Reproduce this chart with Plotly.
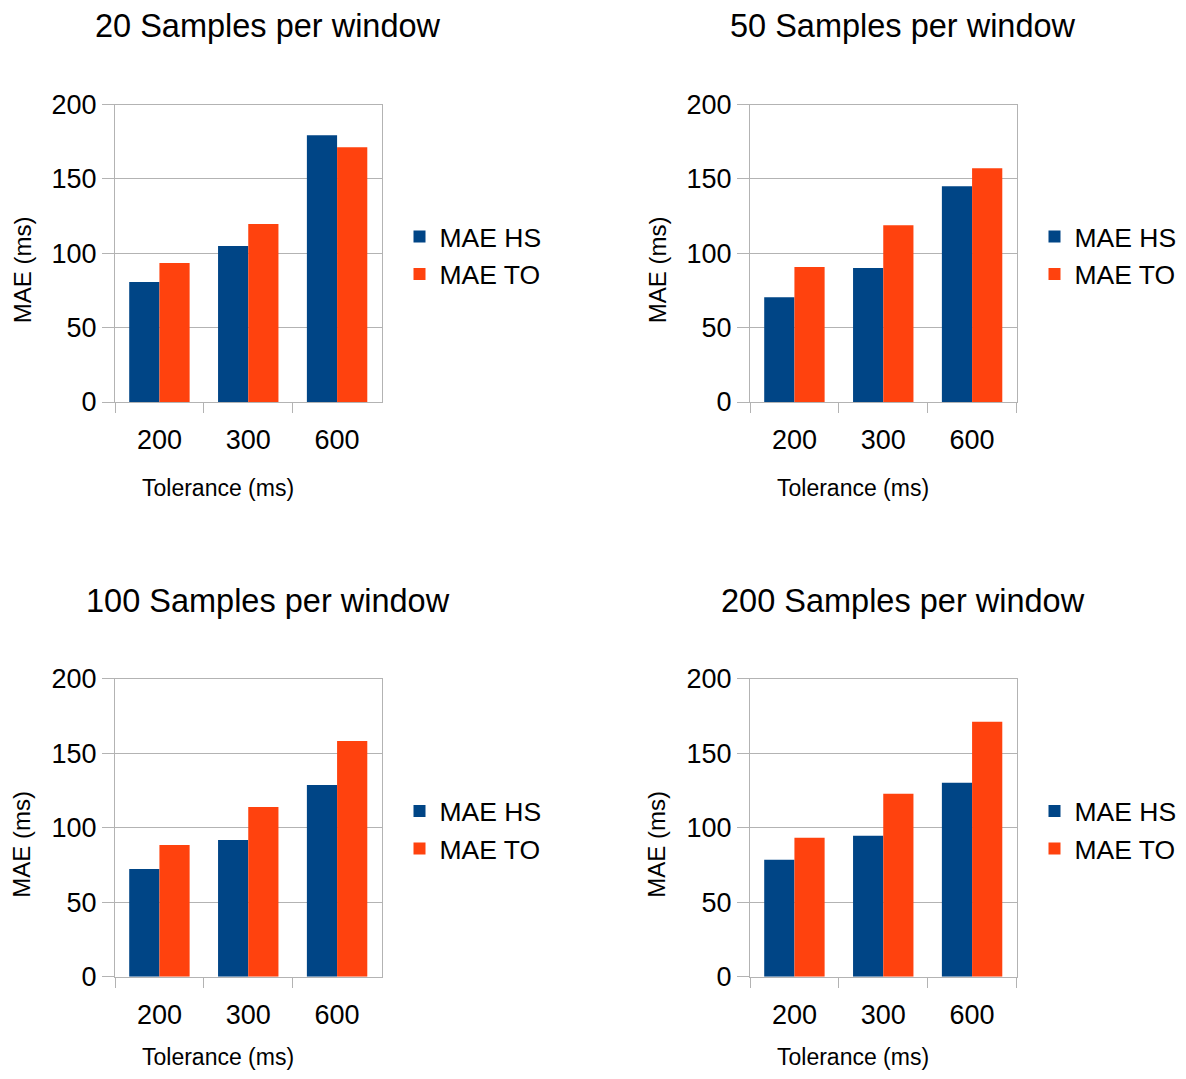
import plotly.graph_objects as go

categories = ["200", "300", "600"]
titles = ["20 Samples per window", "50 Samples per window",
          "100 Samples per window", "200 Samples per window"]
series_names = ["MAE HS", "MAE TO"]
mae_hs = [
    [80.6, 104.8, 179.4],
    [70.5, 90.0, 145.1],
    [72.3, 91.7, 128.6],
    [78.5, 94.6, 130.2],
]
mae_to = [
    [93.4, 119.6, 171.3],
    [90.7, 118.9, 157.2],
    [88.4, 113.9, 158.2],
    [93.3, 122.8, 171.1],
]
y_ticks = [0, 50, 100, 150, 200]
x_title = "Tolerance (ms)"
y_title = "MAE (ms)"

OFF = 8  # page body margin
W, H = 1186 - 2 * OFF, 1079 - 2 * OFF
FONT = "Liberation Sans, Arial, sans-serif"
BLUE = "#004586"
ORANGE = "#ff420e"
GRID = "#b3b3b3"

# panel geometry in screen pixels: (x0, x1, ytop, ybottom, xtitle offset)
panels = [
    (115, 381.5, 104.5, 402, 86),
    (750, 1016.5, 104.5, 402, 86),
    (115, 381.5, 678.7, 976.7, 80),
    (750, 1016.5, 678.7, 976.7, 80),
]


def px(x):
    return (x - OFF) / W


def py(y):
    return 1 - (y - OFF) / H


fig = go.Figure()
layout = dict(
    width=W, height=H,
    margin=dict(l=0, r=0, t=0, b=0, autoexpand=False),
    paper_bgcolor="white", plot_bgcolor="white",
    barmode="group", bargap=0.32, bargroupgap=0,
    font=dict(family=FONT, color="black"),
    annotations=[],
)

for i, (x0, x1, yt, yb, xto) in enumerate(panels):
    n = "" if i == 0 else str(i + 1)
    xa, ya = "x" + n, "y" + n
    lg = "legend" + n
    for name, vals, col in [(series_names[0], mae_hs[i], BLUE),
                            (series_names[1], mae_to[i], ORANGE)]:
        fig.add_trace(go.Bar(x=categories, y=vals, name=name,
                             marker=dict(color=col, line=dict(width=0)),
                             xaxis=xa, yaxis=ya, legend=lg, showlegend=True))
    layout["xaxis" + n] = dict(
        domain=[px(x0), px(x1)], anchor=ya, type="category", automargin=False,
        showline=True, linecolor=GRID, linewidth=1, mirror=True,
        ticks="outside", tickson="boundaries", ticklen=10, tickcolor=GRID,
        showgrid=False, tickfont=dict(size=27), ticklabelstandoff=14,
    )
    layout["yaxis" + n] = dict(
        domain=[py(yb), py(yt)], anchor=xa, range=[0, 200], tickvals=y_ticks,
        automargin=False,
        showline=True, linecolor=GRID, linewidth=1, mirror=True,
        ticks="outside", ticklen=12, tickcolor=GRID,
        showgrid=True, gridcolor=GRID, gridwidth=1, zeroline=False,
        tickfont=dict(size=27), ticklabelstandoff=0,
    )
    layout[lg] = dict(
        x=px(x1 + 18), y=py((yt + yb) / 2 + 2),
        xanchor="left", yanchor="middle",
        font=dict(size=26.5), bgcolor="rgba(0,0,0,0)",
        itemwidth=30, traceorder="normal",
    )
    cx = (x0 + x1) / 2
    layout["annotations"] += [
        dict(text=titles[i], x=px(cx + 20), y=py(yt - 78),
             xref="paper", yref="paper", showarrow=False,
             xanchor="center", yanchor="middle", font=dict(size=32.5)),
        dict(text=x_title, x=px(cx - 30), y=py(yb + xto),
             xref="paper", yref="paper", showarrow=False,
             xanchor="center", yanchor="middle", font=dict(size=23)),
        dict(text=y_title, x=px(x0 - 93), y=py((yt + yb) / 2 + 17),
             xref="paper", yref="paper", showarrow=False, textangle=-90,
             xanchor="center", yanchor="middle", font=dict(size=24)),
    ]

fig.update_layout(**layout)
fig.write_html("out.html")
